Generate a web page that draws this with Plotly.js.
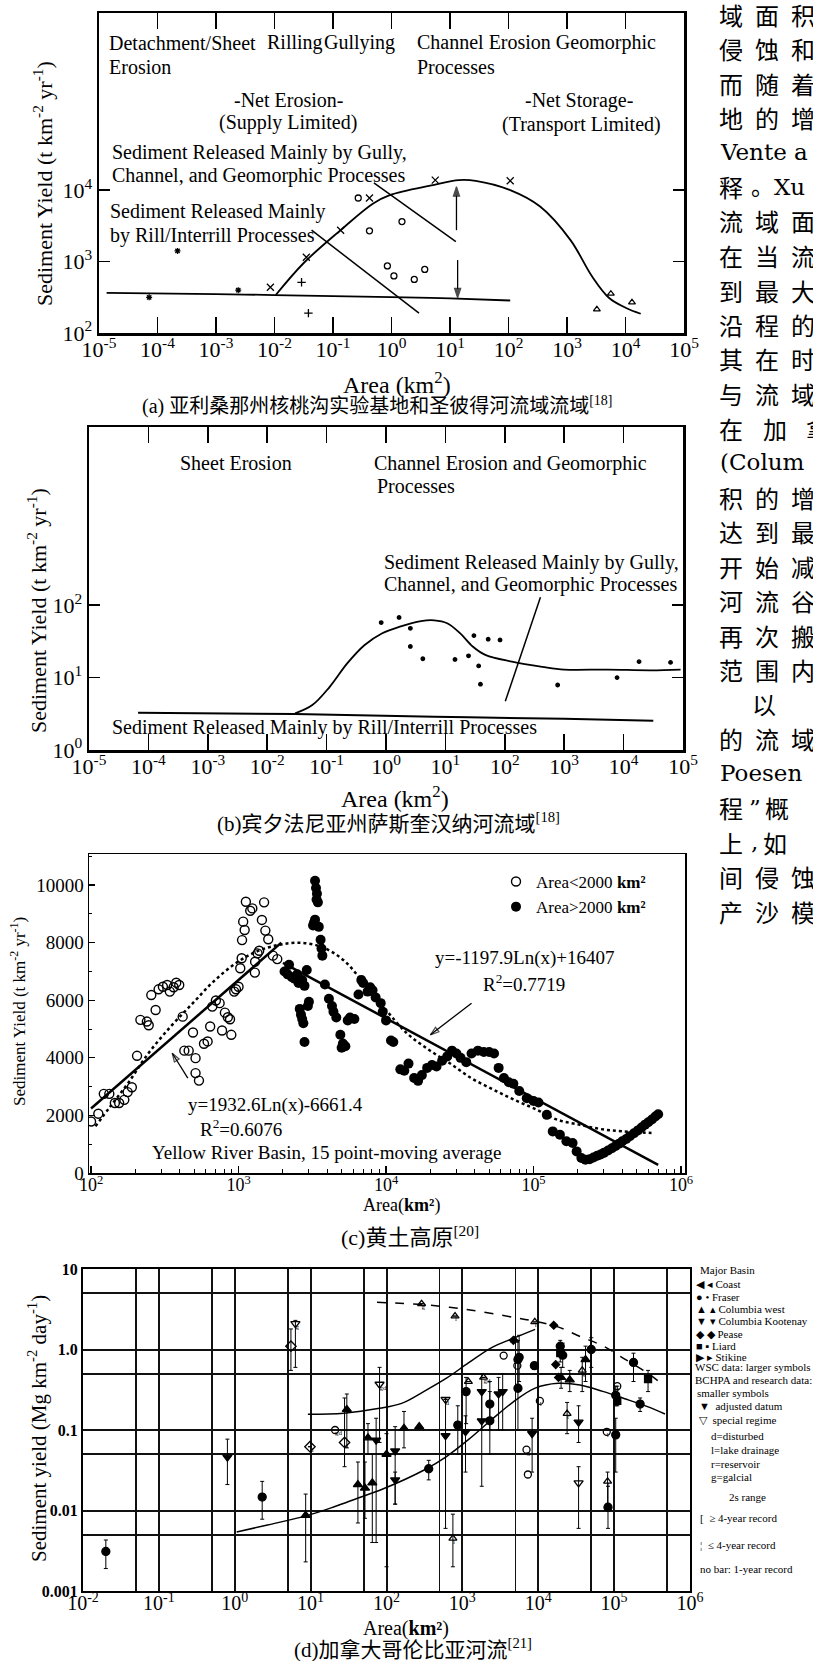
<!DOCTYPE html>
<html><head><meta charset="utf-8">
<script src="https://cdn.plot.ly/plotly-3.0.1.min.js"></script>
<style>html,body{margin:0;padding:0;background:#fff;overflow:hidden;width:813px;height:1661px}#chart{width:880px;height:1661px}</style>
</head><body><div id="chart"></div>
<script>
// ================= DATA =================
// ---- (a) Walnut Gulch / San Pedro ----
const aTickVals = [1e-5,1e-4,1e-3,1e-2,1e-1,1,10,100,1e3,1e4,1e5];
const aTickText = ['10<sup>-5</sup>','10<sup>-4</sup>','10<sup>-3</sup>','10<sup>-2</sup>','10<sup>-1</sup>','10<sup>0</sup>','10<sup>1</sup>','10<sup>2</sup>','10<sup>3</sup>','10<sup>4</sup>','10<sup>5</sup>'];
const aYTickVals = [100, 1000, 10000];
const aYTickText = ['10<sup>2</sup>','10<sup>3</sup>','10<sup>4</sup>'];
const aFlatX = [1.35e-5, 1e-3, 1e-2, 1, 10, 107];
const aFlatY = [365, 350, 340, 318, 305, 285];
const aHumpX = [0.0105, 0.0316, 0.135, 0.479, 0.933, 5.13, 14.1, 27.5, 107, 347, 1148, 2690, 5250, 10230, 18200];
const aHumpY = [340, 955, 2754, 6457, 8511, 11750, 13800, 13490, 10000, 5890, 1995, 617, 309, 224, 186];
const aStarX = [7.2e-5, 2.2e-4, 2.4e-3];
const aStarY = [316, 1410, 398];
const aPlusX = [0.029, 0.038];
const aPlusY = [513, 190];
const aCrossX = [0.0085, 0.035, 0.135, 0.42, 5.6, 107];
const aCrossY = [437, 1150, 2750, 7760, 13800, 13500];
const aCircX = [0.27, 0.42, 1.51, 0.85, 1.1, 2.45, 3.7];
const aCircY = [7760, 2690, 3630, 870, 630, 562, 776];
const aTriX = [3240, 5620, 12900];
const aTriY = [214, 355, 269];
const aLine1X = [0.5, 12.6], aLine1Y = [12600, 1900];
const aLine2X = [0.043, 2.95], aLine2Y = [2750, 190];
const aArrowUpX = [12.9, 12.9], aArrowUpY = [2750, 11200];
const aArrowDnX = [13.5, 13.5], aArrowDnY = [1050, 310];

// ---- (b) Susquehanna ----
const bYTickVals = [1, 10, 100];
const bYTickText = ['10<sup>0</sup>','10<sup>1</sup>','10<sup>2</sup>'];
const bFlatX = [6.7e-5, 0.0295, 6.5, 1000, 31600];
const bFlatY = [3.27, 3.14, 2.88, 2.70, 2.54];
const bHumpX = [0.0295, 0.0575, 0.112, 0.224, 0.437, 0.85, 1.66, 3.9, 6.5, 10.7, 17.8, 28.8, 47.9, 132, 427, 1000, 5370, 28800, 91000];
const bHumpY = [3.2, 4.17, 7.4, 15.8, 28.2, 40.7, 50.1, 60.3, 61.7, 56.2, 40.7, 26.9, 20.4, 16.6, 14.1, 12.9, 12.9, 12.6, 12.9];
const bPtsX = [0.83, 1.66, 2.57, 2.57, 4.17, 14.5, 24.5, 30.2, 36.3, 38.9, 52.5, 83.2, 776, 7760, 18200, 61700];
const bPtsY = [57.5, 67.6, 47.9, 26.9, 18.2, 17.8, 20, 38, 14.5, 8.1, 33.9, 33.1, 7.9, 10, 16.6, 16.2];
const bLineX = [398, 102], bLineY = [129, 4.7];

// ---- (c) Yellow River basin ----
const cXTickVals = [100, 1e3, 1e4, 1e5, 1e6];
const cXTickText = ['10<sup>2</sup>','10<sup>3</sup>','10<sup>4</sup>','10<sup>5</sup>','10<sup>6</sup>'];
const cYTickVals = [0, 2000, 4000, 6000, 8000, 10000];
const cYTickText = ['0', '2000', '4000', '6000', '8000', '10000'];
const cOpenX = [100,112,122,133,145,155,168,177,189,205,216,239,246,256,274,287,307,328,342,363,378,396,418,429,459,491,511,511,539,583,617,642,664,702,744,773,808,846,875,893,935,961,1000,1027,1056,1075,1100,1121,1200,1240,1295,1345,1380,1440,1490,1520,1590,1710,1830,1050,1290];
const cOpenY = [1790,2060,2750,2750,2430,2430,2540,2810,2980,4070,5320,5260,5130,6180,5660,6380,6470,6530,6300,6450,6610,6530,5430,4250,4250,4880,3990,3470,3210,4490,4570,5090,5780,5990,5900,4950,5570,5410,5340,4800,6300,6380,6470,7110,8090,8730,8440,9420,9110,9190,7340,7630,7720,8790,9400,8420,8120,7550,7430,7460,6960];
const cFillX = [2050,2150,2200,2300,2400,2500,2550,2700,2800,2900,2600,2650,2700,2750,2800,2950,3000,3300,3350,3400,3380,3450,3300,3200,3250,3500,3600,3650,3700,3850,4100,4300,4400,4600,4900,5000,5100,5300,5500,5700,6100,6500,6800,7000,7500,7800,8100,8500,9200,9500,10000,10800,11200,12500,13300,14200,15500,16500,17500,19000,20500,22000,24000,26000,28000,30000,32000,35000,38000,42000,46000,50000,54000,58000,63000,68000,73000,80000,90000,100000,108000,123000,135000,151000,167000,184000,196000,211000,225000,240000,255000,270000,285000,300000,320000,340000,360000,380000,400000,425000,450000,480000,510000,540000,570000,600000,635000,670000,700000];
const cFillY = [7000,6900,7230,6800,6750,6900,6600,6700,6500,7050,5700,5500,5350,5200,4550,5800,5950,10150,9900,9700,9500,9400,8800,8600,8700,8550,8100,7800,7550,6550,6050,5800,5600,5400,4800,4350,4500,4400,5300,5400,5350,6200,6700,6600,6300,6450,6350,6100,5900,5600,5300,4600,4550,3600,3550,3800,3300,3200,3400,3650,3750,3700,3900,4050,4250,4150,4000,3850,4150,4250,4200,4200,4150,3650,3300,3150,3100,2850,2600,2500,2450,2020,1445,1330,1100,1040,750,520,460,480,540,600,640,700,780,860,940,1020,1100,1180,1280,1380,1480,1580,1680,1760,1860,1960,2040];
const cFitLX = [100, 1950], cFitLY = [2240, 8000];
const cFitRX = [2000, 700000], cFitRY = [7300, 280];
const cDotX = [107,135,178,245,347,490,676,955,1320,1860,2570,3630,5130,7080,10000,13800,19500,26900,38000,53700,74100,105000,145000,204000,282000,398000,631000];
const cDotY = [1620,2310,3120,4160,5090,5900,6650,7280,7690,7920,8000,7860,7400,6590,5660,4860,4280,3820,3290,2890,2540,2200,1850,1680,1530,1450,1390];
const cArrow1X = [38000, 20000], cArrow1Y = [5900, 4800];
const cArrow2X = [453, 355], cArrow2Y = [3295, 4160];

// ---- (d) British Columbia rivers ----
const dXTickVals = [0.01, 0.1, 1, 10, 100, 1e3, 1e4, 1e5, 1e6];
const dXTickText = ['10<sup>-2</sup>','10<sup>-1</sup>','10<sup>0</sup>','10<sup>1</sup>','10<sup>2</sup>','10<sup>3</sup>','10<sup>4</sup>','10<sup>5</sup>','10<sup>6</sup>'];
const dXMinorVals = [0.05, 0.5, 5, 50, 500, 5e3, 5e4, 5e5];
const dYTickVals = [0.001, 0.01, 0.1, 1, 10];
const dYTickText = ['<b>0.001</b>','<b>0.01</b>','<b>0.1</b>','<b>1.0</b>','<b>10</b>'];
const dYMinorVals = [0.005, 0.05, 0.5, 5];
const dUpperX = [75, 310, 1200, 4700, 9100, 18200, 35500, 70800, 138000, 275000, 468000];
const dUpperY = [3.85, 3.6, 3.12, 2.51, 2.24, 1.91, 1.45, 1.11, 0.76, 0.51, 0.35];
const dMidX = [9.2, 27.5, 81, 158, 309, 617, 1200, 2400, 4700, 9100];
const dMidY = [0.157, 0.162, 0.186, 0.214, 0.30, 0.44, 0.68, 1.05, 1.38, 1.78];
const dLowX = [1.06, 2.7, 9.2, 20.9, 40.7, 91, 309, 617, 1200, 2400, 4700, 9100, 18200, 35500, 70800, 138000, 275000, 468000];
const dLowY = [0.0054, 0.0066, 0.0087, 0.0112, 0.0141, 0.0186, 0.0316, 0.0468, 0.0759, 0.133, 0.224, 0.331, 0.38, 0.363, 0.302, 0.245, 0.195, 0.158];
const fraserX = [0.02, 2.3, 360, 870, 1120, 2300, 2300, 5400, 5600, 5400, 8900, 19500, 21000, 50000, 105000, 105000, 83000, 180000, 220000];
const fraserY = [0.0031, 0.0147, 0.033, 0.115, 0.30, 0.21, 0.13, 0.75, 0.80, 0.33, 0.63, 1.10, 0.85, 1.00, 0.27, 0.087, 0.011, 0.69, 0.21];
const fraserLo = [0.0019, 0.0078, 0.024, 0.05, 0.12, 0.10, 0.05, 0.30, 0.40, 0.10, null, 0.90, 0.60, 0.60, 0.20, 0.03, 0.006, 0.40, 0.17];
const fraserHi = [0.0043, 0.023, 0.042, 0.20, 0.45, 0.40, 0.30, 1.30, 1.50, 0.70, null, 1.30, 1.20, 1.40, 0.35, 0.14, 0.02, 0.90, 0.25];
const colWestX = [8.6, 30, 42, 52, 57, 65, 100, 170, 270, 20000, 26000, 42000];
const colWestY = [0.0087, 0.18, 0.021, 0.019, 0.08, 0.022, 0.05, 0.105, 0.11, 0.45, 0.42, 0.75];
const colWestLo = [0.0023, 0.06, 0.007, 0.008, 0.05, 0.004, 0.002, 0.06, null, 0.33, 0.30, 0.40];
const colWestHi = [0.016, 0.28, 0.04, 0.04, 0.12, 0.05, 0.09, 0.17, null, 0.60, 0.55, 1.10];
const kootX = [0.8, 73, 130, 130, 600, 1100, 1800, 1800, 3000, 3400, 8300, 34000];
const kootY = [0.046, 0.075, 0.055, 0.024, 0.085, 0.095, 0.13, 0.30, 0.28, 0.30, 0.09, 0.125];
const kootLo = [0.021, 0.004, 0.012, 0.012, 0.006, 0.03, 0.02, 0.10, 0.10, 0.10, 0.03, 0.07];
const kootHi = [0.077, 0.14, 0.11, 0.03, 0.25, 0.15, 0.30, 0.50, 0.45, 0.50, 0.14, 0.20];
const peaseX = [4700, 17000, 16000, 18500];
const peaseY = [1.3, 0.65, 2.0, 0.45];
const liardX = [19500, 110000, 280000];
const liardY = [0.9, 0.23, 0.43];
const liardLo = [0.7, 0.2, 0.3];
const liardHi = [1.1, 0.35, 0.55];
const oCircX = [21, 3500, 5300, 7300, 7000, 10500, 80000, 110000];
const oCircY = [0.10, 0.84, 0.63, 0.028, 0.057, 0.23, 0.095, 0.35];
const oTriUpX = [750, 1200, 1900, 4900, 9000, 24000, 82000, 290, 38000, 800];
const oTriUpY = [0.0045, 0.40, 0.45, 1.3, 2.2, 0.16, 0.023, 3.7, 0.55, 2.6];
const oTriUpLo = [0.002, null, null, null, null, 0.09, 0.012, null, 0.3, null];
const oTriUpHi = [0.009, null, null, null, null, 0.22, 0.03, null, 0.8, null];
const oTriDnX = [6.3, 81, 600, 34000];
const oTriDnY = [2.1, 0.37, 0.24, 0.022];
const oTriDnLo = [0.6, 0.07, null, 0.006];
const oTriDnHi = [2.3, 0.6, null, 0.035];
const oDiaX = [5.5, 9.8, 28];
const oDiaY = [1.1, 0.062, 0.07];
const oDiaLo = [0.55, null, 0.035];
const oDiaHi = [1.8, null, 0.25];
// small regime letters next to special-regime symbols
const dTagX = [21, 7000, 10500, 80000, 110000, 750, 1900, 9000, 24000, 82000, 290, 38000, 800, 6.3, 81, 600, 9.8, 28];
const dTagY = [0.10, 0.057, 0.23, 0.095, 0.35, 0.0045, 0.45, 2.2, 0.16, 0.023, 3.7, 0.55, 2.6, 2.1, 0.37, 0.24, 0.062, 0.07];
const dTagText = ['gd', 'g', 'l', 'l', 'r', 'l', 'gd', 'l', 'r', 'l', 'g', 'g', 'l', 'g', 'gd', 'd', 'd', 'd'];

// ---- right-hand body text (runs off the page edge, as in the scan) ----
const bodyLines = ['域面积','侵蚀和','而随着','地的增','Vente a','释。Xu','流域面','在当流','到最大','沿程的','其在时','与流域','在\u2003加\u2003拿','(Colum','积的增','达到最','开始减','河流谷','再次搬','范围内','\u3000以','的流域','Poesen','程”概','上,如','间侵蚀','产沙模'];

// ================= LAYOUT HELPERS =================
const W = 880, H = 1661;   // plot canvas is a little wider than the 813px window so text runs off the edge
const dx = (l, r) => [l / W, r / W];
const dy = (t, b) => [1 - b / H, 1 - t / H];
const px = x => x / W, py = y => 1 - y / H;
const SERIF = 'Liberation Serif, Times New Roman, serif';
const CJK = 'Liberation Serif, Noto Sans CJK SC, serif';

function txt(text, x, y, size, anchor, extra) {
  return Object.assign({text: text, xref: 'paper', yref: 'paper', x: px(x), y: py(y), showarrow: false,
    xanchor: anchor || 'left', yanchor: 'middle', font: {family: SERIF, size: size, color: '#000'}}, extra || {});
}
function errs(y, lo, hi) {
  return {type: 'data', symmetric: false, color: '#000', thickness: 1, width: 2,
    array: hi.map((h, i) => h == null ? null : h - y[i]),
    arrayminus: lo.map((l, i) => l == null ? null : y[i] - l)};
}
const K = '#000';
const traces = [];
function line(x, y, xa, ya, opts) {
  traces.push({x: x, y: y, xaxis: xa, yaxis: ya, mode: 'lines', showlegend: false, hoverinfo: 'skip',
    line: Object.assign({color: K, width: 1.8, shape: 'spline', smoothing: 1}, opts || {})});
}
function arrow(x, y, xa, ya, sym, size) {
  traces.push({x: x, y: y, xaxis: xa, yaxis: ya, mode: 'lines+markers', showlegend: false, hoverinfo: 'skip',
    line: {color: K, width: 1.3},
    marker: {symbol: sym, size: [0, size], angleref: 'previous', color: K, line: {color: K, width: 1.2}}});
}
function pts(x, y, xa, ya, sym, size, extra) {
  traces.push(Object.assign({x: x, y: y, xaxis: xa, yaxis: ya, mode: 'markers', showlegend: false, hoverinfo: 'skip',
    marker: {symbol: sym, size: size, color: K, line: {color: K, width: 1.3}}}, extra || {}));
}

// ---- (a) ----
line(aFlatX, aFlatY, 'x', 'y', {width: 1.8});
line(aHumpX, aHumpY, 'x', 'y', {width: 1.8});
line(aLine1X, aLine1Y, 'x', 'y', {width: 1.5, shape: 'linear'});
line(aLine2X, aLine2Y, 'x', 'y', {width: 1.5, shape: 'linear'});
arrow(aArrowUpX, aArrowUpY, 'x', 'y', 'arrow', 10);
arrow(aArrowDnX, aArrowDnY, 'x', 'y', 'arrow', 10);
pts(aStarX, aStarY, 'x', 'y', 'asterisk-open', 5);
pts(aPlusX, aPlusY, 'x', 'y', 'cross-thin-open', 6);
pts(aCrossX, aCrossY, 'x', 'y', 'x-thin-open', 7);
pts(aCircX, aCircY, 'x', 'y', 'circle-open', 6);
pts(aTriX, aTriY, 'x', 'y', 'triangle-up-open', 6);
// ---- (b) ----
line(bFlatX, bFlatY, 'x2', 'y2', {width: 2});
line(bHumpX, bHumpY, 'x2', 'y2', {width: 1.8});
line(bLineX, bLineY, 'x2', 'y2', {width: 1.5, shape: 'linear'});
pts(bPtsX, bPtsY, 'x2', 'y2', 'circle', 3.5);
// ---- (c) ----
line(cFitLX, cFitLY, 'x3', 'y3', {width: 2.5, shape: 'linear'});
line(cFitRX, cFitRY, 'x3', 'y3', {width: 2.5, shape: 'linear'});
line(cDotX, cDotY, 'x3', 'y3', {width: 2.5, dash: 'dot'});
arrow(cArrow1X, cArrow1Y, 'x3', 'y3', 'arrow-open', 9);
arrow(cArrow2X, cArrow2Y, 'x3', 'y3', 'arrow-open', 9);
traces.push({x: cOpenX, y: cOpenY, xaxis: 'x3', yaxis: 'y3', mode: 'markers', name: 'Area<2000 <b>km²</b>', hoverinfo: 'skip',
  marker: {symbol: 'circle-open', size: 9, color: K, line: {color: K, width: 1.4}}});
traces.push({x: cFillX, y: cFillY, xaxis: 'x3', yaxis: 'y3', mode: 'markers', name: 'Area>2000 <b>km²</b>', hoverinfo: 'skip',
  marker: {symbol: 'circle', size: 10, color: K}});
// ---- (d) ----
line(dUpperX, dUpperY, 'x4', 'y4', {width: 1.5, dash: 'dash'});
line(dMidX, dMidY, 'x4', 'y4', {width: 1.5});
line(dLowX, dLowY, 'x4', 'y4', {width: 1.5});
pts(fraserX, fraserY, 'x4', 'y4', 'circle', 8, {error_y: errs(fraserY, fraserLo, fraserHi)});
pts(colWestX, colWestY, 'x4', 'y4', 'triangle-up', 8, {error_y: errs(colWestY, colWestLo, colWestHi)});
pts(kootX, kootY, 'x4', 'y4', 'triangle-down', 8, {error_y: errs(kootY, kootLo, kootHi)});
pts(peaseX, peaseY, 'x4', 'y4', 'diamond', 6);
pts(liardX, liardY, 'x4', 'y4', 'square', 7, {error_y: errs(liardY, liardLo, liardHi)});
pts(oCircX, oCircY, 'x4', 'y4', 'circle-open', 7);
pts(oTriUpX, oTriUpY, 'x4', 'y4', 'triangle-up-open', 7, {error_y: errs(oTriUpY, oTriUpLo, oTriUpHi)});
pts(oTriDnX, oTriDnY, 'x4', 'y4', 'triangle-down-open', 8, {error_y: errs(oTriDnY, oTriDnLo, oTriDnHi)});
pts(oDiaX, oDiaY, 'x4', 'y4', 'diamond-open', 8, {error_y: errs(oDiaY, oDiaLo, oDiaHi)});
traces.push({x: dTagX, y: dTagY, xaxis: 'x4', yaxis: 'y4', mode: 'text', text: dTagText, textposition: 'bottom right',
  textfont: {family: SERIF, size: 7, color: K}, showlegend: false, hoverinfo: 'skip'});

// ================= AXES =================
const axBase = {showline: true, linecolor: K, zeroline: false, showgrid: false, fixedrange: true, color: K};
const logX = (dom, anchor) => Object.assign({}, axBase, {type: 'log', range: [-5, 5], domain: dom, anchor: anchor,
  tickmode: 'array', tickvals: aTickVals, ticktext: aTickText, ticks: 'inside', ticklen: 16, tickwidth: 1.5, tickcolor: K,
  linewidth: 2.5, mirror: 'allticks', ticklabelstandoff: -5, tickfont: {family: SERIF, size: 22, color: K}});

const minorC = [];
for (let e = 2; e < 6; e++) for (let m = 2; m < 10; m++) minorC.push(m * Math.pow(10, e));

const layout = {
  width: W, height: H, margin: {l: 0, r: 0, t: 0, b: 0}, paper_bgcolor: '#fff', plot_bgcolor: 'rgba(0,0,0,0)',
  font: {family: SERIF, color: K},
  xaxis: logX(dx(99, 684), 'y'),
  yaxis: Object.assign({}, axBase, {type: 'log', range: [2, 6.48], domain: dy(13, 333), anchor: 'x',
    tickmode: 'array', tickvals: aYTickVals, ticktext: aYTickText, ticks: 'inside', ticklen: 11, tickwidth: 1.5, tickcolor: K,
    linewidth: 2.5, mirror: 'allticks', tickfont: {family: SERIF, size: 22, color: K}}),
  xaxis2: logX(dx(89, 683), 'y2'),
  yaxis2: Object.assign({}, axBase, {type: 'log', range: [0, 4.46], domain: dy(427, 750), anchor: 'x2',
    tickmode: 'array', tickvals: bYTickVals, ticktext: bYTickText, ticks: 'inside', ticklen: 11, tickwidth: 1.5, tickcolor: K,
    linewidth: 2.5, mirror: 'allticks', tickfont: {family: SERIF, size: 22, color: K}}),
  xaxis3: Object.assign({}, axBase, {type: 'log', range: [1.986, 6.027], domain: dx(89, 685), anchor: 'y3',
    tickmode: 'array', tickvals: cXTickVals, ticktext: cXTickText, ticks: 'inside', ticklen: 7, tickwidth: 1.2, tickcolor: K,
    minor: {tickmode: 'array', tickvals: minorC, ticks: 'inside', ticklen: 4, tickwidth: 1, tickcolor: K},
    linewidth: 1.5, mirror: true, ticklabelstandoff: -5, tickfont: {family: SERIF, size: 18, color: K}}),
  yaxis3: Object.assign({}, axBase, {type: 'linear', range: [0, 11080], domain: dy(854, 1173), anchor: 'x3',
    tickmode: 'array', tickvals: cYTickVals, ticktext: cYTickText, ticks: 'inside', ticklen: 6, tickwidth: 1.2, tickcolor: K,
    minor: {dtick: 1000, ticks: 'inside', ticklen: 3, tickwidth: 1, tickcolor: K},
    linewidth: 1.5, mirror: true, tickfont: {family: SERIF, size: 19, color: K}}),
  xaxis4: Object.assign({}, axBase, {type: 'log', range: [-2, 6], domain: dx(83, 690), anchor: 'y4',
    tickmode: 'array', tickvals: dXTickVals, ticktext: dXTickText, ticks: '', showgrid: true, gridcolor: '#111', gridwidth: 2,
    minor: {tickmode: 'array', tickvals: dXMinorVals, ticks: '', showgrid: true, gridcolor: '#111', gridwidth: 1.7},
    linewidth: 2, mirror: true, ticklabelstandoff: -7, tickfont: {family: SERIF, size: 20, color: K}}),
  yaxis4: Object.assign({}, axBase, {type: 'log', range: [-3, 1], domain: dy(1269, 1591), anchor: 'x4',
    tickmode: 'array', tickvals: dYTickVals, ticktext: dYTickText, ticks: '', showgrid: true, gridcolor: '#111', gridwidth: 2,
    minor: {tickmode: 'array', tickvals: dYMinorVals, ticks: '', showgrid: true, gridcolor: '#111', gridwidth: 1.7},
    linewidth: 2, mirror: true, tickfont: {family: SERIF, size: 16, color: K}}),
  showlegend: true,
  legend: {x: px(496), y: py(864), xanchor: 'left', yanchor: 'top', bgcolor: 'rgba(0,0,0,0)', borderwidth: 0,
    font: {family: SERIF, size: 17, color: K}, itemwidth: 30, tracegroupgap: 0},
  annotations: []
};

const A = layout.annotations;
// ---- (a) texts ----
A.push(txt('Sediment Yield (t km<sup>-2</sup> yr<sup>-1</sup>)', 43, 184, 22, 'center', {textangle: -90}));
A.push(txt('Area (km<sup>2</sup>)', 397, 383, 24, 'center'));
A.push(txt('(a) 亚利桑那州核桃沟实验基地和圣彼得河流域流域<sup>[18]</sup>', 377, 406, 20, 'center', {font: {family: CJK, size: 20, color: K}}));
A.push(txt('Detachment/Sheet', 107, 43, 20));
A.push(txt('Rilling', 265, 43, 20));
A.push(txt('Gullying', 322, 43, 20));
A.push(txt('Erosion', 107, 67, 20));
A.push(txt('Channel Erosion Geomorphic', 415, 43, 20));
A.push(txt('Processes', 415, 67, 20));
A.push(txt('-Net Erosion-', 288, 100, 20, 'center'));
A.push(txt('(Supply Limited)', 288, 123, 20, 'center'));
A.push(txt('-Net Storage-', 579, 100, 20, 'center'));
A.push(txt('(Transport Limited)', 581, 124, 20, 'center'));
A.push(txt('Sediment Released Mainly by Gully,', 110, 153, 20));
A.push(txt('Channel, and Geomorphic Processes', 110, 176, 20));
A.push(txt('Sediment Released Mainly', 108, 211, 20));
A.push(txt('by Rill/Interrill Processes', 108, 235, 20));
// ---- (b) texts ----
A.push(txt('Sediment Yield (t km<sup>-2</sup> yr<sup>-1</sup>)', 37, 611, 22, 'center', {textangle: -90}));
A.push(txt('Area (km<sup>2</sup>)', 395, 797, 24, 'center'));
A.push(txt('(b)宾夕法尼亚州萨斯奎汉纳河流域<sup>[18]</sup>', 388, 823, 21, 'center', {font: {family: CJK, size: 21, color: K}}));
A.push(txt('Sheet Erosion', 178, 463, 20));
A.push(txt('Channel Erosion and Geomorphic', 372, 463, 20));
A.push(txt('Processes', 375, 486, 20));
A.push(txt('Sediment Released Mainly by Gully,', 382, 562, 20));
A.push(txt('Channel, and Geomorphic Processes', 382, 585, 20));
A.push(txt('Sediment Released Mainly by Rill/Interrill Processes', 110, 727, 20));
// ---- (c) texts ----
A.push(txt('Sediment Yield (t km<sup>-2</sup> yr<sup>-1</sup>)', 18, 1012, 17, 'center', {textangle: -90}));
A.push(txt('Area(<b>km²</b>)', 401, 1205, 18, 'center'));
A.push(txt('(c)黄土高原<sup>[20]</sup>', 410, 1236, 22, 'center', {font: {family: CJK, size: 22, color: K}}));
A.push(txt('y=-1197.9Ln(x)+16407', 525, 958, 19, 'center'));
A.push(txt('R<sup>2</sup>=0.7719', 524, 983, 19, 'center'));
A.push(txt('y=1932.6Ln(x)-6661.4', 275, 1105, 19, 'center'));
A.push(txt('R<sup>2</sup>=0.6076', 241, 1128, 19, 'center'));
A.push(txt('Yellow River Basin, 15 point-moving average', 327, 1152, 19, 'center'));
// ---- (d) texts ----
A.push(txt('Sediment yield (Mg km<sup>-2</sup> day<sup>-1</sup>)', 37, 1429, 21, 'center', {textangle: -90}));
A.push(txt('Area(<b>km²</b>)', 406, 1628, 20, 'center'));
A.push(txt('(d)加拿大哥伦比亚河流<sup>[21]</sup>', 413, 1648, 21, 'center', {font: {family: CJK, size: 21, color: K}}));
const dLeg = [
  ['Major Basin', 698, 1270], ['◀ ◂ Coast', 694, 1284], ['● • Fraser', 694, 1297], ['▲ ▴ Columbia west', 694, 1309],
  ['▼ ▾ Columbia Kootenay', 694, 1321], ['◆ ◆ Pease', 694, 1334], ['■ ▪ Liard', 694, 1346], ['▶ ▸ Stikine', 694, 1357],
  ['WSC data: larger symbols', 693, 1367], ['BCHPA and research data:', 693, 1380], ['smaller symbols', 695, 1393],
  ['▼  adjusted datum', 697, 1406], ['▽  special regime', 697, 1420], ['d=disturbed', 709, 1436], ['l=lake drainage', 709, 1450],
  ['r=reservoir', 709, 1464], ['g=galcial', 709, 1477], ['2s range', 727, 1497], ['[  ≥ 4-year record', 698, 1518],
  ['¦  ≤ 4-year record', 698, 1545], ['no bar: 1-year record', 698, 1569]];
dLeg.forEach(r => A.push(txt(r[0], r[1], r[2], 11)));

// ---- body text column: CJK set on a fixed justified pitch, Latin runs kept whole ----
// tokens: [text, left offset, box width]; single glyphs are centred on their box, Latin runs left-aligned
const isCJK = c => /[\u3400-\u9fff]/.test(c);
const PUNCT = '”,\u3000\u2003';
function bodyTokens(s) {
  const out = []; let x = 0, i = 0;
  while (i < s.length) {
    const c = s[i];
    if (isCJK(c)) { out.push([c, x, 24]); const n = s[i + 1]; x += ('”,。'.indexOf(n) >= 0 && n) ? 31 : 36; i++; }
    else if (c === '”') { out.push([c, x, 10]); x += 15; i++; }
    else if (c === ',') { out.push([c, x, 8]); x += 12.5; i++; }
    else if (c === '\u3000') { x += 33; i++; }
    else if (c === '\u2003') { x += 7.5; i++; }
    else { let j = i; while (j < s.length && !isCJK(s[j]) && PUNCT.indexOf(s[j]) < 0) j++; out.push([s.slice(i, j), x, 0]); x += (j - i) * 14; i = j; }
  }
  return out;
}
const CJK_BODY = {family: 'Noto Sans CJK SC, sans-serif', size: 24, color: K};
const LAT_BODY = {family: 'DejaVu Serif, Noto Sans CJK SC, serif', size: 23, color: K};
const BODY_X0 = 719;
bodyLines.forEach((s, li) => bodyTokens(s).forEach(t => {
  const y = 14 + li * 34.5;
  if (t[2] > 0) A.push(txt(t[0], BODY_X0 + t[1] + t[2] / 2, y, 24, 'center', {font: t[2] >= 24 ? CJK_BODY : LAT_BODY}));
  else A.push(txt(t[0], BODY_X0 + t[1] - 1, y, 23, 'left', {font: LAT_BODY}));
}));

Plotly.newPlot('chart', traces, layout, {staticPlot: true, displayModeBar: false});
</script></body></html>
